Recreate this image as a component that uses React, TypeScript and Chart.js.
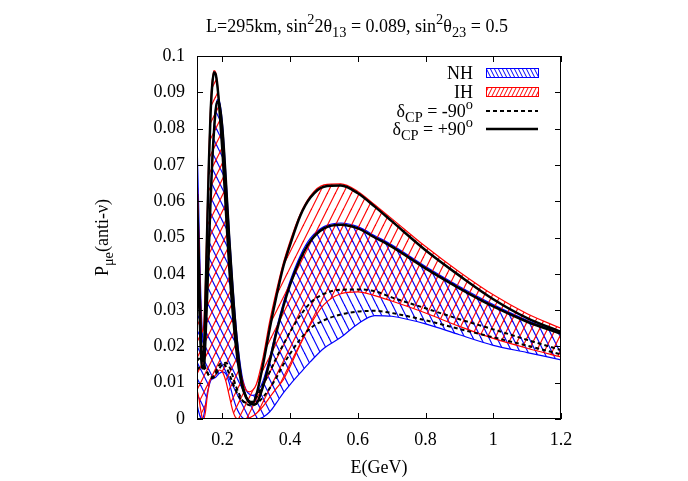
import React, { useEffect, useRef } from 'react';
import { Chart, registerables } from 'chart.js';
Chart.register(...registerables);

// ---------- data ----------
const energies = [0.125,0.13,0.135,0.14,0.145,0.15,0.155,0.16,0.165,0.17,0.175,0.18,0.185,0.19,0.2,0.21,0.22,0.23,0.24,0.25,0.26,0.27,0.28,0.29,0.3,0.32,0.34,0.36,0.38,0.4,0.43,0.46,0.5,0.55,0.6,0.65,0.7,0.8,0.9,1.0,1.1,1.2];

const ihPlus90 = [0.062,0.045,0.027,0.016,0.018, 0.033,0.052,0.070,0.084,0.092, 0.0955,0.095,0.092,0.087,0.074, 0.058,0.042,0.030,0.020,0.013, 0.0085,0.006,0.0048,0.0045,0.0065, 0.015,0.025,0.034,0.042,0.048, 0.056,0.061,0.064,0.0643,0.0622, 0.0585,0.0545,0.0465,0.0395,0.033, 0.0278,0.0240];
const nhPlus90 = [0.050,0.036,0.022,0.014,0.014, 0.022,0.034,0.047,0.060,0.071, 0.079,0.085,0.0875,0.087,0.080, 0.066,0.050,0.036,0.024,0.015, 0.009,0.006,0.0045,0.004,0.0042, 0.009,0.016,0.024,0.031,0.037, 0.044,0.049,0.0525,0.0535,0.0525, 0.050,0.0475,0.0415,0.036,0.031, 0.0268,0.0235];
const ihMinus90 = [0.016,0.0165,0.017,0.0165,0.0155, 0.014,0.013,0.012,0.0115,0.0115, 0.012,0.013,0.014,0.0148,0.0154, 0.0145,0.0125,0.010,0.0078,0.006, 0.005,0.0045,0.0045,0.005,0.006, 0.0095,0.013,0.017,0.0205,0.024, 0.0285,0.032,0.0345,0.0356,0.0357, 0.0352,0.0335,0.0305,0.0275,0.0247, 0.0218,0.019];
const nhMinus90 = [0.0135,0.014,0.0145,0.0145,0.014, 0.0135,0.0128,0.012,0.0115,0.0113, 0.0115,0.012,0.013,0.0138,0.015, 0.0155,0.0145,0.012,0.009,0.0068, 0.005,0.0042,0.0038,0.0038,0.0042, 0.006,0.0085,0.0115,0.015,0.018, 0.022,0.025,0.0272,0.0288,0.0296, 0.0298,0.0292,0.0272,0.0248,0.0225, 0.0202,0.0178];
const ihBandMax = [0.068,0.052,0.034,0.024,0.026, 0.038,0.056,0.073,0.086,0.093, 0.096,0.0955,0.0925,0.0875,0.075, 0.059,0.043,0.031,0.021,0.0145, 0.0105,0.008,0.0075,0.008,0.0095, 0.017,0.027,0.0355,0.043,0.049, 0.0565,0.0615,0.0645,0.0648,0.0627, 0.059,0.0552,0.0475,0.0405,0.0342, 0.0290,0.0250];
const ihBandMin = [0.008,0.006,0.003,0.0005,0, 0.002,0.006,0.009,0.011,0.0112, 0.0115,0.0122,0.013,0.0135,0.013, 0.0105,0.0065,0.0025,0.0003,0, 0,0,0.0003,0.0008,0.0015, 0.0035,0.006,0.0085,0.0108,0.0145, 0.0205,0.026,0.0315,0.0345,0.035, 0.034,0.0325,0.0292,0.0255,0.0222, 0.0195,0.0171];
const nhBandMax = [0.077,0.058,0.038,0.025,0.02, 0.025,0.036,0.049,0.062,0.072, 0.08,0.0855,0.088,0.0878,0.0815, 0.0675,0.052,0.038,0.026,0.017, 0.011,0.008,0.0068,0.0065,0.007, 0.0105,0.017,0.025,0.032,0.038, 0.045,0.0498,0.053,0.054,0.053, 0.0505,0.048,0.042,0.0365,0.0315, 0.0272,0.0238];
const nhBandMin = [0.004,0.002,0.0005,0,0.001, 0.004,0.007,0.009,0.0105,0.011, 0.0112,0.0115,0.012,0.0125,0.013, 0.0125,0.01,0.0065,0.0035,0.0015, 0.0003,0,0,0,0, 0.0005,0.002,0.0045,0.0072,0.0095, 0.0127,0.0158,0.0195,0.0225,0.0262, 0.0285,0.0283,0.0262,0.0232,0.0203, 0.0183,0.0163];

const xTickValues = [0.2, 0.4, 0.6, 0.8, 1.0, 1.2];
const xTickLabels = ['0.2', '0.4', '0.6', '0.8', '1', '1.2'];
const yTickValues = [0, 0.01, 0.02, 0.03, 0.04, 0.05, 0.06, 0.07, 0.08, 0.09, 0.1];
const yTickLabels = ['0', '0.01', '0.02', '0.03', '0.04', '0.05', '0.06', '0.07', '0.08', '0.09', '0.1'];

// rich text: [text, kind] kind 0 normal, 1 subscript, 2 superscript
type Seg = [string, number];
const titleText: Seg[] = [['L=295km, sin', 0], ['2', 2], ['2θ', 0], ['13', 1], [' = 0.089, sin', 0], ['2', 2], ['θ', 0], ['23', 1], [' = 0.5', 0]];
const xTitleText: Seg[] = [['E(GeV)', 0]];
const yTitleText: Seg[] = [['P', 0], ['μe', 1], ['(anti-ν)', 0]];
const legendNH: Seg[] = [['NH', 0]];
const legendIH: Seg[] = [['IH', 0]];
const legendMinus: Seg[] = [['δ', 0], ['CP', 1], [' = -90', 0], ['o', 2]];
const legendPlus: Seg[] = [['δ', 0], ['CP', 1], [' = +90', 0], ['o', 2]];

const FONT = '"Liberation Serif", "Times New Roman", serif';
const BLUE = '#0000ff';
const RED = '#ff0000';

function makeHatch(color: string, dir: string, W: number, H: number, lw: number) {
  const c = document.createElement('canvas');
  c.width = W; c.height = H;
  const g = c.getContext('2d')!;
  g.strokeStyle = color; g.lineWidth = lw;
  for (const off of [-W, 0, W]) {
    g.beginPath();
    if (dir === '/') { g.moveTo(off, H); g.lineTo(off + W, 0); }
    else { g.moveTo(off, 0); g.lineTo(off + W, H); }
    g.stroke();
  }
  return g.createPattern(c, 'repeat')!;
}

function segsWidth(ctx: CanvasRenderingContext2D, segs: Seg[], size: number) {
  let w = 0;
  for (const [t, k] of segs) {
    ctx.font = `${k ? size * 0.8 : size}px ${FONT}`;
    w += ctx.measureText(t).width;
  }
  return w;
}
function drawRich(ctx: CanvasRenderingContext2D, segs: Seg[], x: number, y: number, size: number, align: string) {
  const w = segsWidth(ctx, segs, size);
  let cx = align === 'right' ? x - w : align === 'center' ? x - w / 2 : x;
  ctx.textBaseline = 'alphabetic';
  ctx.textAlign = 'left';
  ctx.fillStyle = '#000';
  for (const [t, k] of segs) {
    const s = k ? size * 0.8 : size;
    ctx.font = `${s}px ${FONT}`;
    const dy = k === 1 ? size * 0.3 : k === 2 ? -size * 0.42 : 0;
    ctx.fillText(t, cx, y + dy);
    cx += ctx.measureText(t).width;
  }
}

export default function App() {
  const ref = useRef<HTMLCanvasElement>(null);
  useEffect(() => {
    const canvas = ref.current!;
    const pts = (arr: number[]) => energies.map((e, i) => ({ x: e, y: arr[i] }));
    const redHatch = makeHatch(RED, '/', 8, 16, 1.2);
    const blueHatch = makeHatch(BLUE, '\\', 8, 16, 1.2);
    const redHatchSmall = makeHatch(RED, '/', 4, 8, 1);
    const blueHatchSmall = makeHatch(BLUE, '\\', 4, 8, 1);

    const common = { pointRadius: 0, cubicInterpolationMode: 'monotone' as const, clip: 0 };

    const decor = {
      id: 'decor',
      afterDraw(chart: any) {
        const ctx: CanvasRenderingContext2D = chart.ctx;
        const { left, right, top, bottom } = chart.chartArea;
        const xs = chart.scales.x, ys = chart.scales.y;
        ctx.save();
        ctx.strokeStyle = '#000';
        ctx.lineWidth = 1;
        ctx.setLineDash([]);
        ctx.strokeRect(left + 0.5, top + 0.5, right - left - 1, bottom - top - 1);
        ctx.beginPath();
        for (const v of xTickValues) {
          const px = Math.round(xs.getPixelForValue(v)) + 0.5;
          ctx.moveTo(px, bottom); ctx.lineTo(px, bottom - 6);
          ctx.moveTo(px, top); ctx.lineTo(px, top + 6);
        }
        for (const v of yTickValues) {
          const py = Math.round(ys.getPixelForValue(v)) + 0.5;
          ctx.moveTo(left, py); ctx.lineTo(left + 6, py);
          ctx.moveTo(right, py); ctx.lineTo(right - 6, py);
        }
        ctx.stroke();

        // titles
        drawRich(ctx, titleText, 357, 32, 18, 'center');
        drawRich(ctx, xTitleText, (left + right) / 2, 473, 18, 'center');
        ctx.save();
        ctx.translate(108, (top + bottom) / 2);
        ctx.rotate(-Math.PI / 2);
        drawRich(ctx, yTitleText, 0, 0, 18, 'center');
        ctx.restore();

        // legend
        const tx = 473, bx0 = 486, bx1 = 538;
        const rows = [73, 92, 111, 129];
        drawRich(ctx, legendNH, tx, rows[0] + 6, 18, 'right');
        drawRich(ctx, legendIH, tx, rows[1] + 6, 18, 'right');
        drawRich(ctx, legendMinus, tx, rows[2] + 6, 18, 'right');
        drawRich(ctx, legendPlus, tx, rows[3] + 6, 18, 'right');
        ctx.fillStyle = blueHatchSmall;
        ctx.fillRect(bx0, rows[0] - 5, bx1 - bx0, 9);
        ctx.strokeStyle = BLUE; ctx.lineWidth = 1;
        ctx.strokeRect(bx0 + 0.5, rows[0] - 5 + 0.5, bx1 - bx0, 9);
        ctx.fillStyle = redHatchSmall;
        ctx.fillRect(bx0, rows[1] - 5, bx1 - bx0, 9);
        ctx.strokeStyle = RED;
        ctx.strokeRect(bx0 + 0.5, rows[1] - 5 + 0.5, bx1 - bx0, 9);
        ctx.strokeStyle = '#000';
        ctx.lineWidth = 2;
        ctx.setLineDash([4, 3]);
        ctx.beginPath(); ctx.moveTo(bx0, rows[2]); ctx.lineTo(bx1, rows[2]); ctx.stroke();
        ctx.setLineDash([]);
        ctx.lineWidth = 2.5;
        ctx.beginPath(); ctx.moveTo(bx0, rows[3]); ctx.lineTo(bx1, rows[3]); ctx.stroke();
        ctx.restore();
      },
    };

    const chart = new Chart(canvas, {
      type: 'line',
      data: {
        datasets: [
          { ...common, label: 'IH +90', data: pts(ihPlus90), borderColor: '#000', borderWidth: 2.5, fill: false },
          { ...common, label: 'NH +90', data: pts(nhPlus90), borderColor: '#000', borderWidth: 2.5, fill: false },
          { ...common, label: 'IH -90', data: pts(ihMinus90), borderColor: '#000', borderWidth: 2, borderDash: [4, 3], fill: false },
          { ...common, label: 'NH -90', data: pts(nhMinus90), borderColor: '#000', borderWidth: 2, borderDash: [4, 3], fill: false },
          { ...common, label: 'IH band max', data: pts(ihBandMax), borderColor: RED, borderWidth: 1.2, backgroundColor: redHatch, fill: '+1' },
          { ...common, label: 'IH band min', data: pts(ihBandMin), borderColor: RED, borderWidth: 1.2, fill: false },
          { ...common, label: 'NH band max', data: pts(nhBandMax), borderColor: BLUE, borderWidth: 1.2, backgroundColor: blueHatch, fill: '+1' },
          { ...common, label: 'NH band min', data: pts(nhBandMin), borderColor: BLUE, borderWidth: 1.2, fill: false },
        ] as any,
      },
      options: {
        responsive: false,
        animation: false,
        devicePixelRatio: 1,
        layout: { padding: { left: 0, right: 127, top: 56, bottom: 0 } },
        plugins: { legend: { display: false }, title: { display: false }, tooltip: { enabled: false } },
        scales: {
          x: {
            type: 'linear', min: 0.125, max: 1.2,
            grid: { display: false, drawTicks: false },
            border: { display: false },
            afterBuildTicks: (s: any) => { s.ticks = xTickValues.map(v => ({ value: v })); },
            afterFit: (s: any) => { s.height = 62; },
            ticks: {
              autoSkip: false, padding: 10, color: '#000',
              font: { family: FONT, size: 18 },
              callback: (_v: any, i: number) => xTickLabels[i],
            },
          },
          y: {
            type: 'linear', min: 0, max: 0.1,
            grid: { display: false, drawTicks: false },
            border: { display: false },
            afterBuildTicks: (s: any) => { s.ticks = yTickValues.map(v => ({ value: v })); },
            afterFit: (s: any) => { s.width = 197; },
            ticks: {
              autoSkip: false, padding: 12, color: '#000',
              font: { family: FONT, size: 18 },
              callback: (_v: any, i: number) => yTickLabels[i],
            },
          },
        },
      },
      plugins: [decor],
    });
    return () => chart.destroy();
  }, []);
  return (
    <div style={{ position: 'absolute', left: 0, top: 0, width: 688, height: 481, background: '#fff' }}>
      <canvas ref={ref} width={688} height={481} style={{ display: 'block' }} />
    </div>
  );
}
